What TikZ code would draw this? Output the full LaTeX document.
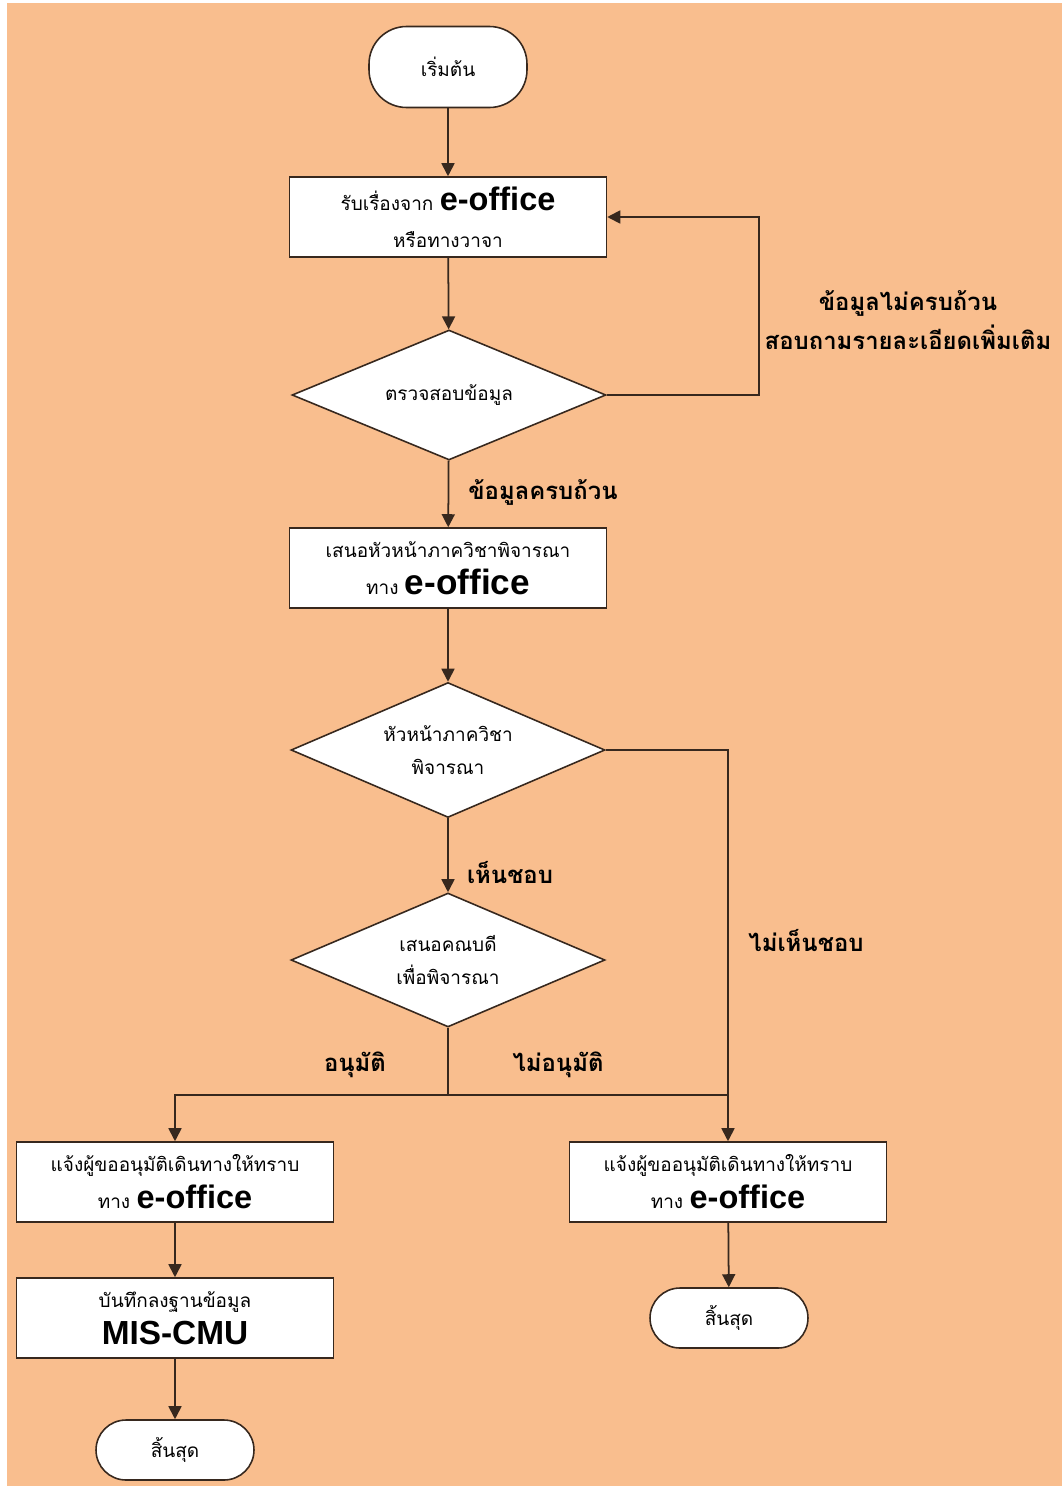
\documentclass[tikz,border=0pt]{standalone}
\usepackage{fontspec}
\setmainfont[Script=Thai]{Loma}
\newfontfamily\eng{Liberation Sans}
\usetikzlibrary{arrows.meta, positioning, calc, shapes.geometric}

\definecolor{peach}{RGB}{249,190,142}
\definecolor{edge}{RGB}{55,40,30}

\begin{document}
\begin{tikzpicture}[x=0.02cm, y=-0.02cm, >={Triangle[length=2.6mm, width=2.6mm]}]
    \tikzstyle{proc} = [rectangle, draw=edge, line width=0.9pt, fill=white, minimum width=6.34cm, minimum height=1.6cm, align=center, font=\fontsize{10.8}{21}\selectfont, inner sep=0pt]
    \tikzstyle{decide} = [diamond, draw=edge, line width=0.9pt, fill=white, minimum width=6.28cm, minimum height=2.66cm, inner sep=0pt]
    \tikzstyle{dtext} = [align=center, font=\fontsize{10.8}{19}\selectfont]
    \tikzstyle{term} = [rectangle, draw=edge, line width=0.9pt, fill=white, minimum width=3.16cm, font=\fontsize{10.8}{12}\selectfont]
    \tikzstyle{lbl} = [font=\bfseries\fontsize{13.6}{22.5}\selectfont, align=center]
    \tikzstyle{flow} = [draw=edge, line width=1pt]
    \newcommand{\eoff}[1][18.5]{{\eng\bfseries\fontsize{#1}{#1}\selectfont e-office}}

    % Background
    \fill[white] (0,0) rectangle (1062,1488);
    \fill[peach] (7,3) rectangle (1062,1486);

    % Define nodes
    \node[term, rounded corners=0.75cm, minimum height=1.62cm] (start) at (448,67) {เริ่มต้น};
    \node[proc] (recv) at (448,217) {รับเรื่องจาก \eoff\\หรือทางวาจา};
    \node[decide, minimum height=2.6cm, label={[dtext]center:ตรวจสอบข้อมูล}] (check) at (449,395) {};
    \node[proc] (propose) at (448,568) {เสนอหัวหน้าภาควิชาพิจารณา\\ทาง \eoff[20]};
    \node[decide, minimum height=2.7cm, label={[dtext]center:หัวหน้าภาควิชา\\พิจารณา}] (head) at (448,750) {};
    \node[decide, minimum height=2.68cm, label={[dtext]center:เสนอคณบดี\\เพื่อพิจารณา}] (dean) at (448,960) {};
    \coordinate (split) at (448,1095);
    \node[proc] (notifyL) at (175,1182) {แจ้งผู้ขออนุมัติเดินทางให้ทราบ\\ทาง \eoff};
    \node[proc] (notifyR) at (728,1182) {แจ้งผู้ขออนุมัติเดินทางให้ทราบ\\ทาง \eoff};
    \node[proc] (record) at (175,1318) {บันทึกลงฐานข้อมูล\\{\eng\bfseries\fontsize{19}{19}\selectfont MIS-CMU}};
    \node[term, rounded corners=0.6cm, minimum height=1.2cm] (endL) at (175,1450) {สิ้นสุด};
    \node[term, rounded corners=0.6cm, minimum height=1.2cm] (endR) at (729,1318) {สิ้นสุด};

    % Draw edges
    \draw[flow, ->] (start) -- (recv);
    \draw[flow, ->] (recv) -- (check);
    \draw[flow, ->] (check.east) -- ++(152,0) |- (recv.east);
    \draw[flow, ->] (check) -- (propose);
    \draw[flow, ->] (propose) -- (head);
    \draw[flow, ->] (head) -- (dean);
    \draw[flow, ->] (head.east) -| (notifyR.north);
    \draw[flow] (dean.south) -- (split);
    \draw[flow, ->] (split) -| (notifyL.north);
    \draw[flow] (split) -- (split -| notifyR.north);
    \draw[flow, ->] (notifyL) -- (record);
    \draw[flow, ->] (record) -- (endL);
    \draw[flow, ->] (notifyR) -- (endR);

    % Labels
    \node[lbl] (lackinfo) at (908,320) {ข้อมูลไม่ครบถ้วน\\สอบถามรายละเอียดเพิ่มเติม};
    \node[lbl] (fullinfo) at (543,492) {ข้อมูลครบถ้วน};
    \node[lbl] (agree) at (510,872) {เห็นชอบ};
    \node[lbl] (disagree) at (806,940) {ไม่เห็นชอบ};
    \node[lbl] (approve) at (355,1065) {อนุมัติ};
    \node[lbl] (reject) at (558,1065) {ไม่อนุมัติ};
\end{tikzpicture}
\end{document}
